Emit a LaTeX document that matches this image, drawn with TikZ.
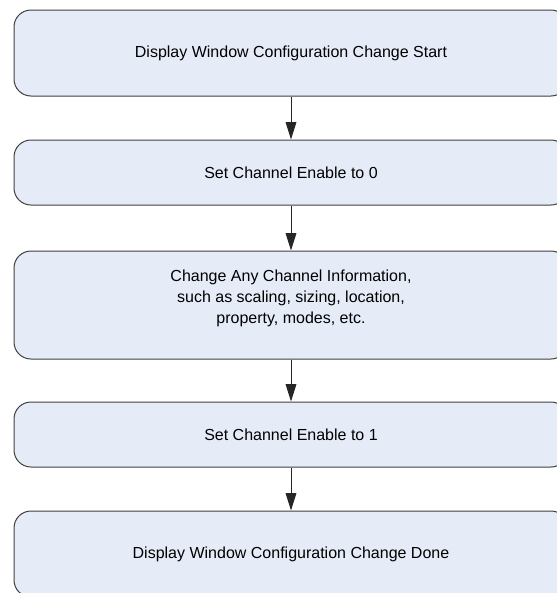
\documentclass[tikz,border=0pt]{standalone}
\usepackage{fontspec}
\setmainfont{Liberation Sans}
\usetikzlibrary{arrows.meta}
\definecolor{boxfill}{RGB}{230,236,247}
\definecolor{boxline}{RGB}{64,64,64}
\tikzset{every picture/.style={line width=0.75pt}}
\tikzset{
  procbox/.style={draw=boxline, fill=boxfill, rounded corners=12.75pt, minimum width=415.5pt, inner sep=0pt, align=center, font=\fontsize{12}{15.75}\selectfont},
  flowarrow/.style={draw=black!85, -{Triangle[width=8pt,length=13pt]}}
}

\begin{document}
\begin{tikzpicture}[x=0.75pt,y=0.75pt,yscale=-1,xscale=1]
%set diagram size 557 x 593, boxes run past the right and bottom edge
\useasboundingbox (0,0) rectangle (557,593);
\clip (0,0) rectangle (557,593);
%Flowchart: Alternative Process [id:start]
\node [procbox, minimum height=64.5pt] (cfgstart) at (291,53) {Display Window Configuration Change Start};
%Flowchart: Alternative Process [id:enable0]
\node [procbox, minimum height=48.75pt] (enable0) at (291,172.5) {Set Channel Enable to 0};
%Flowchart: Alternative Process [id:chinfo]
\node [procbox, minimum height=81pt] (chinfo) at (291,305) {Change Any Channel Information,\\ such as scaling, sizing, location,\\ property, modes, etc.\\[-3.75pt]};
%Flowchart: Alternative Process [id:enable1]
\node [procbox, minimum height=48.75pt] (enable1) at (291,434.5) {Set Channel Enable to 1};
%Flowchart: Alternative Process [id:done]
\node [procbox, minimum height=64.5pt] (cfgdone) at (291,554) {Display Window Configuration Change Done};
%Straight Lines with arrows
\draw [flowarrow] (cfgstart) -- (enable0);
\draw [flowarrow] (enable0) -- (chinfo);
\draw [flowarrow] (chinfo) -- (enable1);
\draw [flowarrow] (enable1) -- (cfgdone);
\end{tikzpicture}
\end{document}
